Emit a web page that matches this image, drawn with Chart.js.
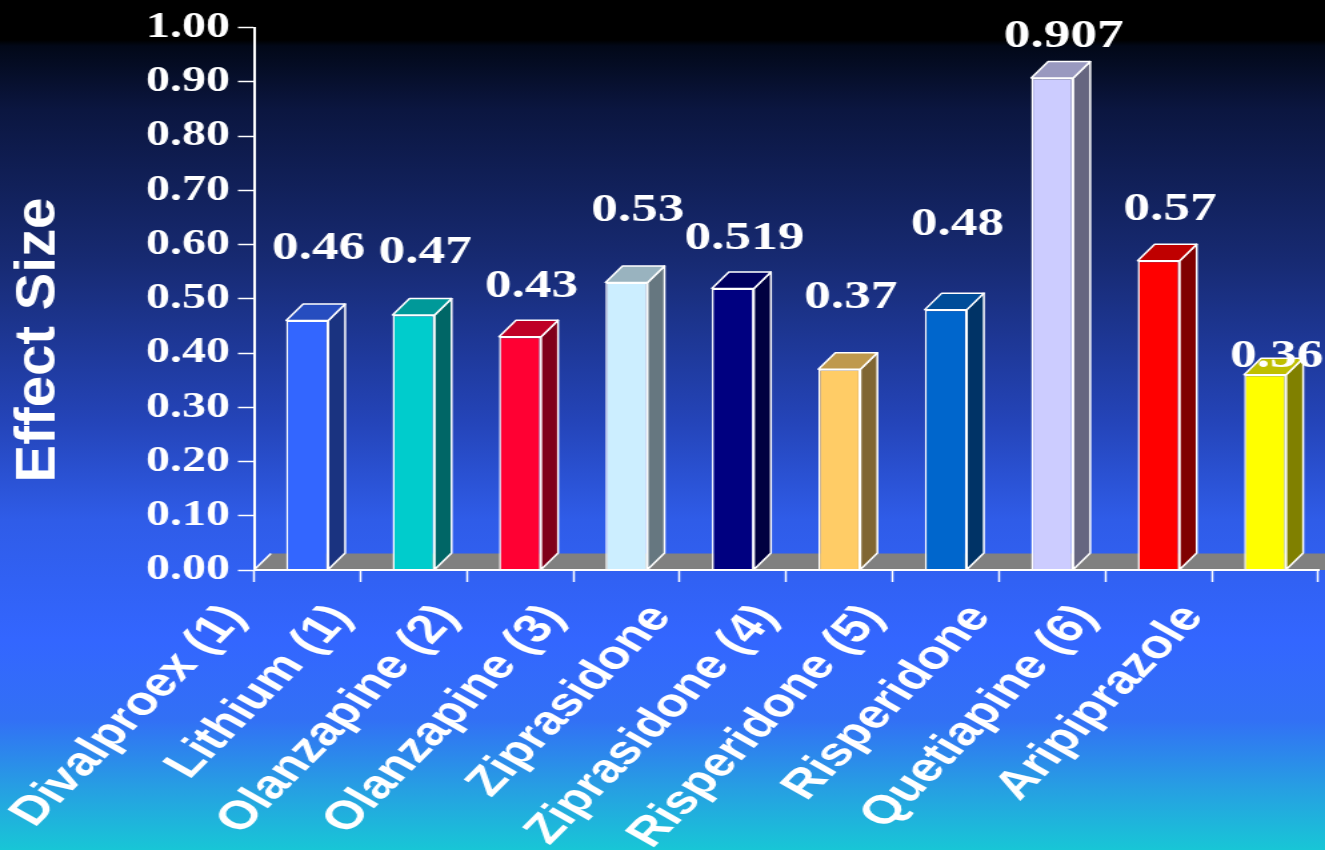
<!DOCTYPE html>
<html>
<head>
<meta charset="utf-8">
<title>Effect Size</title>
<script src="https://cdn.jsdelivr.net/npm/chart.js@4.4.0/dist/chart.umd.min.js"></script>
<style>
	html, body {
		margin: 0;
		padding: 0;
		width: 1325px;
		height: 850px;
		overflow: hidden;
		background: linear-gradient(to bottom,
			#000000 0px, #000000 40px, #020818 46px, #0b1640 110px,
			#172a72 260px, #2444b8 420px, #2f5ce8 520px, #3366ff 640px,
			#3270f5 720px, #26a0e2 790px, #18c6d6 850px);
	}
	/* le graphique original est étiré horizontalement */
	#wrap {
		width: 994px;
		height: 850px;
		transform: scaleX(1.333);
		transform-origin: 0 0;
	}
</style>
</head>
<body>
<div id="wrap"><canvas id="chart"></canvas></div>
<script>
// Données
const categories = [
	"Divalproex (1)", "Lithium (1)", "Olanzapine (2)", "Olanzapine (3)",
	"Ziprasidone", "Ziprasidone (4)", "Risperidone (5)", "Risperidone",
	"Quetiapine (6)", "Aripiprazole",
];
const effectSizes = [0.46, 0.47, 0.43, 0.53, 0.519, 0.37, 0.48, 0.907, 0.57, 0.36];
const valueLabels = ["0.46", "0.47", "0.43", "0.53", "0.519", "0.37", "0.48", "0.907", "0.57", "0.36"];
const yTickValues = [0, 0.1, 0.2, 0.3, 0.4, 0.5, 0.6, 0.7, 0.8, 0.9, 1.0];

// Styles
const barColors = [
	"#3366ff", "#00cccc", "#ff0033", "#cceeff", "#000080",
	"#ffcc66", "#0066cc", "#ccccff", "#ff0000", "#ffff00",
];
// hauteur des étiquettes au-dessus de chaque barre (px)
const labelLift = [72, 62, 50, 72, 50, 72, 85, 41, 51, 18];
const DEPTH_X = 12.75;
const DEPTH_Y = 16.5;

function shade(hex, f) {
	const n = parseInt(hex.slice(1), 16);
	const r = Math.round(((n >> 16) & 255) * f);
	const g = Math.round(((n >> 8) & 255) * f);
	const b = Math.round((n & 255) * f);
	return `rgb(${r}, ${g}, ${b})`;
}

// Plugin pour le faux 3D, les étiquettes et le titre de l'axe
const bar3d = {
	id: "bar3d",
	beforeDatasetsDraw(chart) {
		const { ctx, chartArea } = chart;
		ctx.save();
		ctx.fillStyle = "#808080";
		ctx.beginPath();
		ctx.moveTo(chartArea.left, chartArea.bottom);
		ctx.lineTo(chartArea.left + DEPTH_X, chartArea.bottom - DEPTH_Y);
		ctx.lineTo(chart.width, chartArea.bottom - DEPTH_Y);
		ctx.lineTo(chart.width, chartArea.bottom);
		ctx.closePath();
		ctx.fill();
		ctx.strokeStyle = "#ffffff";
		ctx.lineWidth = 1.5;
		ctx.beginPath();
		ctx.moveTo(chartArea.left, chartArea.bottom);
		ctx.lineTo(chartArea.left + DEPTH_X, chartArea.bottom - DEPTH_Y);
		ctx.stroke();
		ctx.restore();
	},
	afterDatasetsDraw(chart) {
		const { ctx } = chart;
		const meta = chart.getDatasetMeta(0);
		ctx.save();
		ctx.strokeStyle = "#ffffff";
		ctx.lineWidth = 1.5;
		ctx.lineJoin = "round";
		meta.data.forEach((bar, i) => {
			const left = bar.x - bar.width / 2;
			const right = bar.x + bar.width / 2;
			const top = bar.y;
			const base = bar.base;

			// face de côté
			ctx.fillStyle = shade(barColors[i], 0.5);
			ctx.beginPath();
			ctx.moveTo(right, top);
			ctx.lineTo(right + DEPTH_X, top - DEPTH_Y);
			ctx.lineTo(right + DEPTH_X, base - DEPTH_Y);
			ctx.lineTo(right, base);
			ctx.closePath();
			ctx.fill();
			ctx.stroke();

			// face du dessus
			ctx.fillStyle = shade(barColors[i], 0.75);
			ctx.beginPath();
			ctx.moveTo(left, top);
			ctx.lineTo(left + DEPTH_X, top - DEPTH_Y);
			ctx.lineTo(right + DEPTH_X, top - DEPTH_Y);
			ctx.lineTo(right, top);
			ctx.closePath();
			ctx.fill();
			ctx.stroke();
		});
		ctx.restore();
	},
	afterDraw(chart) {
		const { ctx } = chart;
		const meta = chart.getDatasetMeta(0);
		ctx.save();
		ctx.fillStyle = "#ffffff";
		ctx.textAlign = "center";
		ctx.textBaseline = "middle";
		ctx.font = "bold 40px 'Liberation Serif', 'Times New Roman', serif";
		meta.data.forEach((bar, i) => {
			ctx.fillText(valueLabels[i], bar.x + 8.6, bar.y - labelLift[i]);
		});

		// titre de l'axe Y
		ctx.translate(29, 340);
		ctx.rotate(-Math.PI / 2);
		ctx.scale(1.31, 1);
		ctx.font = "bold 43px 'Liberation Sans', Arial, sans-serif";
		ctx.fillText("Effect Size", 0, 0);
		ctx.restore();
	},
};

Chart.defaults.color = "#ffffff";

new Chart(document.getElementById("chart"), {
	type: "bar",
	data: {
		labels: categories,
		datasets: [
			{
				label: "Effect Size",
				data: effectSizes,
				backgroundColor: barColors,
				borderColor: "#ffffff",
				borderWidth: 1.5,
				categoryPercentage: 1,
				barPercentage: 0.395,
			},
		],
	},
	options: {
		responsive: true,
		maintainAspectRatio: false,
		animation: false,
		layout: {
			autoPadding: false,
			padding: { top: 22, right: 5, left: 0, bottom: 0 },
		},
		plugins: {
			legend: { display: false },
			tooltip: { enabled: false },
		},
		scales: {
			x: {
				afterFit: (scale) => {
					scale.height = 280;
					// les étiquettes inclinées ne doivent pas rétrécir la zone
					scale.paddingLeft = 0;
					scale.paddingRight = 0;
				},
				grid: {
					display: true,
					drawOnChartArea: false,
					drawTicks: true,
					tickLength: 12,
					tickColor: "#ffffff",
					tickWidth: 1.5,
				},
				border: { display: true, color: "#ffffff", width: 2, z: 1 },
				ticks: {
					color: "#ffffff",
					autoSkip: false,
					minRotation: 53,
					maxRotation: 53,
					labelOffset: -54,
					padding: 14,
					font: { family: "'Liberation Sans', Arial, sans-serif", size: 40, weight: "bold" },
				},
			},
			y: {
				min: 0,
				max: 1,
				afterFit: (scale) => {
					scale.width = 190.5;
				},
				afterBuildTicks: (scale) => {
					scale.ticks = yTickValues.map((v) => ({ value: v }));
				},
				grid: {
					display: true,
					drawOnChartArea: false,
					drawTicks: true,
					tickLength: 12,
					tickColor: "#ffffff",
					tickWidth: 1.5,
				},
				border: { display: true, color: "#ffffff", width: 2, z: 1 },
				ticks: {
					color: "#ffffff",
					padding: 6,
					callback: (v) => Number(v).toFixed(2),
					font: { family: "'Liberation Serif', 'Times New Roman', serif", size: 36, weight: "bold" },
				},
			},
		},
	},
	plugins: [bar3d],
});
</script>
</body>
</html>
